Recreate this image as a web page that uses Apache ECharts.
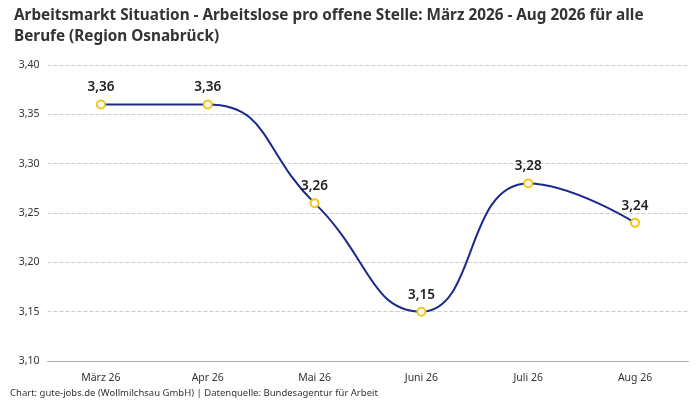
<!DOCTYPE html>
<html><head><meta charset="utf-8">
<script src="https://cdn.jsdelivr.net/npm/echarts@6/dist/echarts.min.js"></script>
<style>html,body{margin:0;padding:0}#c{width:700px;height:400px}</style>
</head><body><div id="c"></div>
<script>
const categories = ["März 26","Apr 26","Mai 26","Juni 26","Juli 26","Aug 26"];
const values = [3.36,3.36,3.26,3.15,3.28,3.24];
const chart = echarts.init(document.getElementById('c'));
chart.setOption({
  animation:false,
  title:{text:"Arbeitsmarkt Situation - Arbeitslose pro offene Stelle: März 2026 - Aug 2026 für alle\nBerufe (Region Osnabrück)",
    left:9,top:0,textStyle:{fontFamily:"Noto Sans",fontSize:15.3,fontWeight:"bold",color:"#333",lineHeight:21}},
  graphic:[{type:"text",left:10,top:388,style:{text:"Chart: gute-jobs.de (Wollmilchsau GmbH) | Datenquelle: Bundesagentur für Arbeit",fontSize:9.5,fontFamily:"Noto Sans",fill:"#333"}}],
  grid:{left:47.5,right:11.5,top:65,bottom:39},
  xAxis:{type:"category",data:categories,boundaryGap:true,
    axisLine:{lineStyle:{color:"#aaa"}},axisTick:{show:false},
    axisLabel:{color:"#333",fontSize:10.5,fontFamily:"Noto Sans",margin:12}},
  yAxis:{type:"value",min:3.10,max:3.40,interval:0.05,
    axisLabel:{color:"#333",fontSize:10.5,fontFamily:"Noto Sans",formatter:v=>v.toFixed(2).replace('.',',')},
    splitLine:{lineStyle:{type:"dashed",color:"#ccc"}}},
  series:[{type:"line",data:values,smooth:0.5,symbol:"circle",symbolSize:8,
    lineStyle:{color:"#1a2a8c",width:2},
    itemStyle:{color:"#fff",borderColor:"#f5c518",borderWidth:2},
    label:{show:true,position:"top",fontSize:13.5,fontFamily:"Noto Sans",fontWeight:600,color:"#222",
      formatter:p=>p.value.toFixed(2).replace('.',',')}}]
});
</script></body></html>
